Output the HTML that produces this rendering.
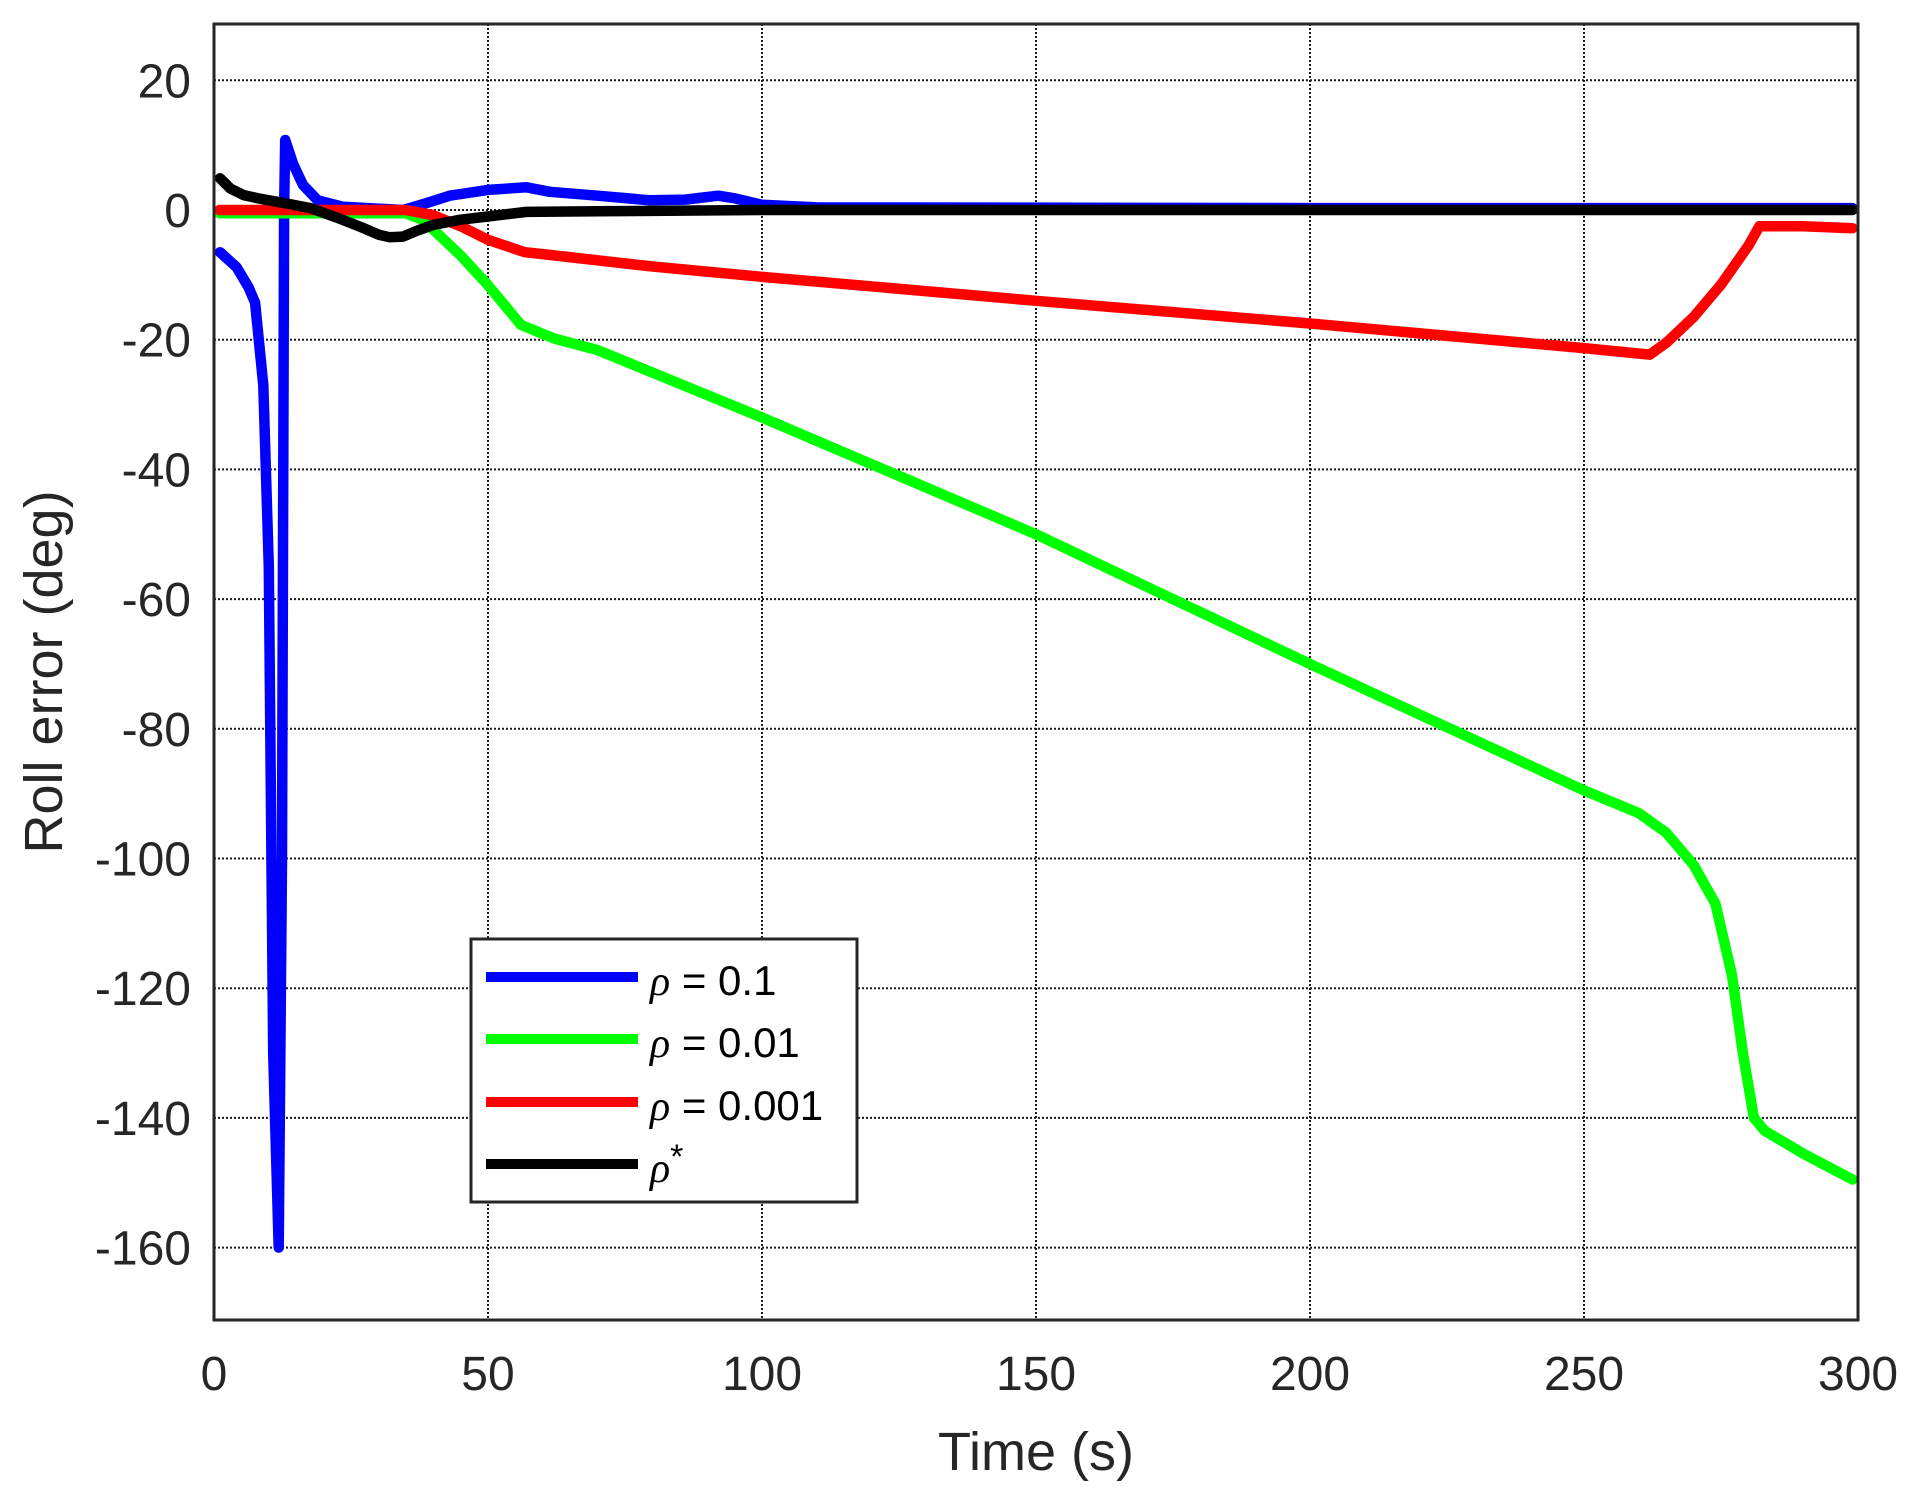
<!DOCTYPE html>
<html><head><meta charset="utf-8"><style>
html,body{margin:0;padding:0;background:#fff;}
svg{display:block;}
text{font-family:"Liberation Sans",Arial,sans-serif;fill:#262626;}
</style></head><body>
<svg id="s" width="1926" height="1497" viewBox="0 0 1926 1497" xmlns="http://www.w3.org/2000/svg">
<rect width="1926" height="1497" fill="#fff"/>
<g id="grid" stroke="#1a1a1a" stroke-width="2" stroke-dasharray="2,2" fill="none"></g>
<g id="ticks" font-size="48"></g>
<g id="series" fill="none" stroke-width="10.5" stroke-linejoin="round" stroke-linecap="round"></g>
<rect x="214" y="24" width="1644" height="1296" fill="none" stroke="#262626" stroke-width="3"/>
<text x="1036" y="1470" font-size="54" text-anchor="middle">Time  (s)</text>
<text transform="translate(62,672) rotate(-90)" font-size="54" text-anchor="middle">Roll error (deg)</text>
<g>
<rect x="471" y="939" width="386" height="263" fill="#fff" stroke="#262626" stroke-width="3"/>
<line x1="486" y1="977" x2="638" y2="977" stroke="#0000ff" stroke-width="10"/>
<line x1="486" y1="1039" x2="638" y2="1039" stroke="#00ff00" stroke-width="10"/>
<line x1="486" y1="1102" x2="638" y2="1102" stroke="#ff0000" stroke-width="10"/>
<line x1="486" y1="1164" x2="638" y2="1164" stroke="#000" stroke-width="10"/>
<g font-size="42" style="fill:#000">
<text x="650" y="995" style="fill:#000"><tspan font-style="italic" font-family="Liberation Serif">ρ</tspan> = 0.1</text>
<text x="650" y="1057" style="fill:#000"><tspan font-style="italic" font-family="Liberation Serif">ρ</tspan> = 0.01</text>
<text x="650" y="1120" style="fill:#000"><tspan font-style="italic" font-family="Liberation Serif">ρ</tspan> = 0.001</text>
<text x="650" y="1182" style="fill:#000"><tspan font-style="italic" font-family="Liberation Serif">ρ</tspan><tspan dy="-14" font-size="34">*</tspan></text>
</g>
</g>
</svg>
<script>
var X=function(t){return 214+5.48*t;}, Y=function(v){return 210-6.485*v;};
var ns="http://www.w3.org/2000/svg";
var g=document.getElementById('grid'), tk=document.getElementById('ticks');
function el(p,n,a,txt){var e=document.createElementNS(ns,n);for(var k in a)e.setAttribute(k,a[k]);if(txt!==undefined)e.textContent=txt;p.appendChild(e);return e;}
for(var t=50;t<300;t+=50){el(g,'line',{x1:X(t),y1:24,x2:X(t),y2:1320});}
for(var t=0;t<=300;t+=50){el(tk,'text',{x:X(t),y:1390,'text-anchor':'middle'},String(t));}
for(var v=20;v>=-160;v-=20){el(g,'line',{x1:214,y1:Y(v),x2:1858,y2:Y(v)});el(tk,'text',{x:191,y:Y(v)+17,'text-anchor':'end'},String(v));}
var S={
'#0000ff':[[1.1,-6.5],[4.1,-8.8],[6.3,-11.9],[7.5,-14.3],[9,-27],[10,-55],[10.8,-130],[11.8,-160],[12.4,-100],[12.8,0],[13,10.8],[14.4,7.2],[16.2,3.9],[18.9,1.5],[23.6,0.5],[34.5,0],[38.9,1.1],[43,2.2],[50,3.1],[57,3.5],[61.3,2.8],[70,2.2],[79.6,1.5],[86,1.6],[92,2.2],[95,1.8],[100,0.8],[110,0.4],[200,0.3],[299,0.3]],
'#00ff00':[[1,-0.5],[35,-0.5],[38,-1.5],[40,-3],[45,-7],[50,-11.6],[56,-17.7],[62,-19.8],[70,-21.6],[100,-32],[150,-50],[200,-70],[250,-89.5],[260,-93],[265,-96],[270,-101],[274,-107],[277,-118],[279,-130],[281,-140],[283,-142],[290,-145.5],[299,-149.5]],
'#ff0000':[[1,0],[35,0],[40,-0.8],[45,-2.5],[50,-4.6],[56.7,-6.5],[60,-6.8],[79.8,-8.7],[100,-10.3],[150,-14],[200,-17.5],[250,-21.3],[262,-22.3],[265,-20.5],[270,-16.5],[275,-11.5],[280,-5.5],[282,-2.5],[290,-2.5],[299,-2.8]],
'#000000':[[1.1,4.9],[3,3.3],[5.4,2.3],[8,1.8],[12.7,1.1],[17.6,0.3],[22.5,-1.2],[27,-2.7],[30,-3.8],[32,-4.2],[34.5,-4.1],[37,-3.2],[40,-2.3],[45,-1.5],[49,-1.1],[57,-0.3],[70,-0.2],[100,0],[299,0]]
};
var sg=document.getElementById('series');
for(var c in S){el(sg,'polyline',{stroke:c,points:S[c].map(function(p){return X(p[0]).toFixed(1)+','+Y(p[1]).toFixed(1);}).join(' ')});}
</script>
</body></html>
